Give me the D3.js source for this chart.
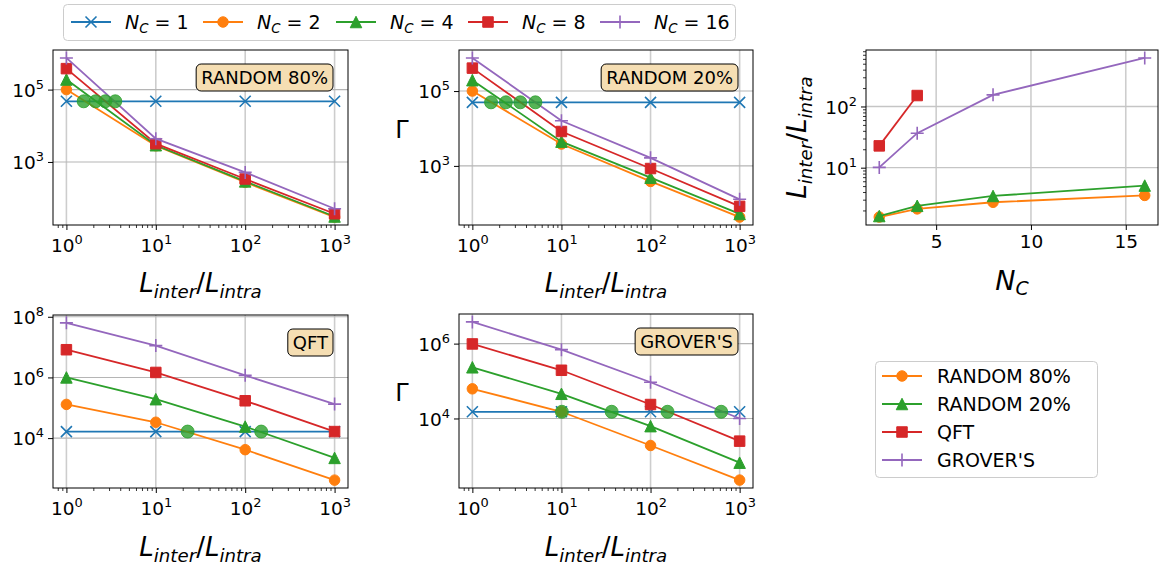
<!DOCTYPE html>
<html>
<head>
<meta charset="utf-8">
<script src="https://cdn.jsdelivr.net/npm/d3@7"></script>
<style>
  body { margin: 0; background: #fff; }
  text { font-family: "DejaVu Sans", sans-serif; fill: #000; }
</style>
</head>
<body>
<div id="chart"></div>
<script>
// ---- data ----
const ratios = [1, 10, 100, 1000];               // L_inter / L_intra
const ncCounts = [1, 2, 4, 8, 16];
const ncColors = ['#1f77b4', '#ff7f0e', '#2ca02c', '#d62728', '#9467bd'];
const ncMarkers = ['x', 'o', '^', 's', '+'];

// Gamma, one row per N_C (1, 2, 4, 8, 16), one column per ratio
const gammaRandom80 = [
  [4.75e4, 4.75e4, 4.75e4, 4.75e4],
  [1.0e5, 2800, 275, 30],
  [1.9e5, 2900, 290, 31],
  [3.8e5, 3200, 338, 37],
  [7.5e5, 4400, 515, 51]
];
const gammaRandom20 = [
  [5.0e4, 5.0e4, 5.0e4, 5.0e4],
  [1.0e5, 3850, 385, 43],
  [1.95e5, 4450, 485, 52],
  [4.1e5, 8300, 850, 83],
  [7.66e5, 16100, 1640, 128]
];
const gammaQft = [
  [1.64e4, 1.64e4, 1.64e4, 1.64e4],
  [1.29e5, 3.33e4, 4150, 411],
  [1.0e6, 1.92e5, 2.4e4, 2220],
  [8.2e6, 1.46e6, 1.7e5, 1.64e4],
  [6.3e7, 1.12e7, 1.17e6, 1.32e5]
];
const gammaGrover = [
  [1.51e4, 1.51e4, 1.51e4, 1.51e4],
  [6.2e4, 1.51e4, 1900, 226],
  [2.33e5, 4.56e4, 6240, 659],
  [9.8e5, 1.94e5, 2.36e4, 2480],
  [3.8e6, 6.9e5, 9.3e4, 1.0e4]
];

// break-even ratio vs N_C
const crossNc = [2, 4, 8, 16];
const crossRandom80 = [1.56, 2.12, 2.72, 3.52];
const crossRandom20 = [1.62, 2.38, 3.45, 5.1];
const crossQft = [22.7, 151];
const crossGrover = [10.1, 36.6, 155, 621];

const benchNames = ['RANDOM 80%', 'RANDOM 20%', 'QFT', "GROVER'S"];
const benchColors = ['#ff7f0e', '#2ca02c', '#d62728', '#9467bd'];
const benchMarkers = ['o', '^', 's', '+'];

// ---- drawing ----
const W = 1160, H = 566;
const TICK_FONT = 18.5;
const svg = d3.select('#chart').append('svg').attr('width', W).attr('height', H);

const markerSize = { o: 10.5, s: 10.5, '^': 11.5, '+': 13, x: 11 };
function markerPath(type, s) {
  const h = s / 2;
  if (type === 'o') return d3.symbol(d3.symbolCircle, Math.PI * h * h)();
  if (type === 's') return `M${-h},${-h}H${h}V${h}H${-h}Z`;
  if (type === '^') return `M0,${-h}L${h},${h}L${-h},${h}Z`;
  if (type === '+') return `M${-h},0H${h}M0,${-h}V${h}`;
  return `M${-h},${-h}L${h},${h}M${h},${-h}L${-h},${h}`;
}
function addMarker(g, type, color, cx, cy) {
  const p = g.append('path')
    .attr('transform', `translate(${cx},${cy})`)
    .attr('d', markerPath(type, markerSize[type]));
  if (type === '+' || type === 'x') p.attr('fill', 'none').attr('stroke', color).attr('stroke-width', 1.6);
  else p.attr('fill', color).attr('stroke', color).attr('stroke-width', 1);
}

function powLabel(sel, exp, size) {
  sel.text(null);
  sel.append('tspan').text('10');
  sel.append('tspan').attr('dy', -0.42 * size).attr('font-size', size * 0.7).text(exp);
}

function ratioLabel(sel, size) {
  sel.attr('font-size', size).attr('font-style', 'italic');
  sel.append('tspan').text('L');
  sel.append('tspan').attr('font-size', size * 0.7).attr('dy', size * 0.22).text('inter');
  sel.append('tspan').attr('dy', -size * 0.22).attr('font-style', 'normal').text('/');
  sel.append('tspan').text('L');
  sel.append('tspan').attr('font-size', size * 0.7).attr('dy', size * 0.22).text('intra');
}

function ncText(sel, tail, size) {
  sel.attr('font-size', size);
  sel.append('tspan').attr('font-style', 'italic').text('N');
  sel.append('tspan').attr('font-style', 'italic').attr('font-size', size * 0.7).attr('dy', size * 0.2).text('C');
  if (tail) sel.append('tspan').attr('dy', -size * 0.2).text(tail);
}

function frame(g, box) {
  g.append('rect').attr('x', box.x).attr('y', box.y).attr('width', box.w).attr('height', box.h)
    .attr('fill', 'none').attr('stroke', '#000').attr('stroke-width', 1);
}

function styleAxis(a) {
  a.select('.domain').remove();
  a.selectAll('line').attr('stroke', '#000').attr('stroke-width', 1);
  a.selectAll('text').attr('font-size', TICK_FONT).attr('font-family', '"DejaVu Sans", sans-serif');
}

function drawLogPanel(box, gammas, crossX, name, withGamma, labelBase) {
  const g = svg.append('g');
  const x = d3.scaleLog().domain([10 ** -0.15, 10 ** 3.15]).range([box.x, box.x + box.w]);
  const all = gammas.flat();
  const lo = Math.log10(d3.min(all)), hi = Math.log10(d3.max(all)), pad = 0.05 * (hi - lo);
  const y = d3.scaleLog().domain([10 ** (lo - pad), 10 ** (hi + pad)]).range([box.y + box.h, box.y]);

  const yMajor = [];
  for (let k = Math.floor(lo - pad) - 2; k <= Math.ceil(hi + pad); k += 2) {
    const v = 10 ** k;
    if (v >= y.domain()[0] && v <= y.domain()[1]) yMajor.push(v);
  }
  const xMinor = [];
  for (let d = -1; d <= 3; d++) for (let m = 2; m <= 9; m++) {
    const v = m * 10 ** d;
    if (v >= x.domain()[0] && v <= x.domain()[1]) xMinor.push(v);
  }

  // grid
  g.selectAll('.vg').data(ratios).join('line')
    .attr('x1', d => x(d)).attr('x2', d => x(d)).attr('y1', box.y).attr('y2', box.y + box.h)
    .attr('stroke', '#cdcdcd').attr('stroke-width', 1.6);
  g.selectAll('.hg').data(yMajor).join('line')
    .attr('x1', box.x).attr('x2', box.x + box.w).attr('y1', d => y(d)).attr('y2', d => y(d))
    .attr('stroke', '#b5b5b5').attr('stroke-width', 1.1);

  // series
  const line = d3.line().x(d => x(d[0])).y(d => y(d[1]));
  gammas.forEach((vals, i) => {
    const pts = ratios.map((r, j) => [r, vals[j]]);
    g.append('path').datum(pts).attr('d', line).attr('fill', 'none')
      .attr('stroke', ncColors[i]).attr('stroke-width', 1.8);
    pts.forEach(p => addMarker(g, ncMarkers[i], ncColors[i], x(p[0]), y(p[1])));
  });
  // break-even points on the N_C = 1 level
  g.selectAll('.cross').data(crossX).join('circle')
    .attr('cx', d => x(d)).attr('cy', y(gammas[0][0])).attr('r', 6.5)
    .attr('fill', '#2ca02c').attr('fill-opacity', 0.8).attr('stroke', '#2ca02c').attr('stroke-opacity', 0.8);

  frame(g, box);

  // axes
  const xa = g.append('g').attr('transform', `translate(0,${box.y + box.h})`)
    .call(d3.axisBottom(x).tickValues(ratios).tickSize(5).tickPadding(9).tickFormat(d => Math.round(Math.log10(d))));
  styleAxis(xa);
  xa.selectAll('text').each(function (d) { powLabel(d3.select(this), Math.round(Math.log10(d)), TICK_FONT); });
  const xm = g.append('g').attr('transform', `translate(0,${box.y + box.h})`)
    .call(d3.axisBottom(x).tickValues(xMinor).tickSize(3).tickFormat(''));
  styleAxis(xm);
  xm.selectAll('line').attr('stroke-width', 0.8);

  const ya = g.append('g').attr('transform', `translate(${box.x},0)`)
    .call(d3.axisLeft(y).tickValues(yMajor).tickSize(5).tickPadding(4).tickFormat(d => Math.round(Math.log10(d))));
  styleAxis(ya);
  ya.selectAll('text').attr('dy', '0.36em').each(function (d) { powLabel(d3.select(this), Math.round(Math.log10(d)), TICK_FONT); });

  // x label
  g.append('text').attr('x', box.x + box.w / 2).attr('y', labelBase).attr('text-anchor', 'middle')
    .call(s => ratioLabel(s, 26));
  if (withGamma) {
    g.append('text').attr('x', box.x - 57).attr('y', box.y + box.h / 2)
      .attr('text-anchor', 'middle').attr('font-size', 24).text('Γ');
  }

  // benchmark tag
  const tag = g.append('g');
  const t = tag.append('text').attr('font-size', 18).attr('text-anchor', 'end')
    .attr('x', box.x + box.w - 20).attr('y', box.y + 34).text(name);
  const tw = t.node().getComputedTextLength();
  tag.insert('rect', 'text')
    .attr('x', box.x + box.w - 20 - tw - 5).attr('y', box.y + 14)
    .attr('width', tw + 10).attr('height', 27).attr('rx', 5)
    .attr('fill', '#f5deb3').attr('stroke', '#000').attr('stroke-width', 1);
}

const layout = [
  { x: 53, y: 50, w: 295, h: 175 },
  { x: 459, y: 50, w: 294, h: 175 },
  { x: 866, y: 50, w: 292, h: 175 },
  { x: 53, y: 315, w: 295, h: 173 },
  { x: 459, y: 314, w: 294, h: 174 }
];

drawLogPanel(layout[0], gammaRandom80, crossRandom80, benchNames[0], false, 292);
drawLogPanel(layout[1], gammaRandom20, crossRandom20, benchNames[1], true, 292);
drawLogPanel(layout[3], gammaQft, crossQft, benchNames[2], false, 556);
drawLogPanel(layout[4], gammaGrover, crossGrover, benchNames[3], true, 556);

// ---- break-even panel ----
(function () {
  const box = layout[2];
  const g = svg.append('g');
  const x = d3.scaleLinear().domain([2 - 0.7, 16 + 0.7]).range([box.x, box.x + box.w]);
  const series = [crossRandom80, crossRandom20, crossQft, crossGrover];
  const all = series.flat();
  const lo = Math.log10(d3.min(all)), hi = Math.log10(d3.max(all)), pad = 0.05 * (hi - lo);
  const y = d3.scaleLog().domain([10 ** (lo - pad), 10 ** (hi + pad)]).range([box.y + box.h, box.y]);
  const yMajor = [10, 100];
  const yMinor = [];
  for (let d = 0; d <= 2; d++) for (let m = 2; m <= 9; m++) {
    const v = m * 10 ** d;
    if (v >= y.domain()[0] && v <= y.domain()[1]) yMinor.push(v);
  }
  const xTicks = [5, 10, 15];

  g.selectAll('.vg').data(xTicks).join('line')
    .attr('x1', d => x(d)).attr('x2', d => x(d)).attr('y1', box.y).attr('y2', box.y + box.h)
    .attr('stroke', '#cdcdcd').attr('stroke-width', 1.6);
  g.selectAll('.hg').data(yMajor).join('line')
    .attr('x1', box.x).attr('x2', box.x + box.w).attr('y1', d => y(d)).attr('y2', d => y(d))
    .attr('stroke', '#c5c5c5').attr('stroke-width', 1.4);

  const line = d3.line().x(d => x(d[0])).y(d => y(d[1]));
  series.forEach((vals, i) => {
    const pts = vals.map((v, j) => [crossNc[j], v]);
    g.append('path').datum(pts).attr('d', line).attr('fill', 'none')
      .attr('stroke', benchColors[i]).attr('stroke-width', 1.8);
    pts.forEach(p => addMarker(g, benchMarkers[i], benchColors[i], x(p[0]), y(p[1])));
  });

  frame(g, box);

  const xa = g.append('g').attr('transform', `translate(0,${box.y + box.h})`)
    .call(d3.axisBottom(x).tickValues(xTicks).tickSize(5).tickPadding(5).tickFormat(d3.format('d')));
  styleAxis(xa);
  const ya = g.append('g').attr('transform', `translate(${box.x},0)`)
    .call(d3.axisLeft(y).tickValues(yMajor).tickSize(5).tickPadding(4).tickFormat(d => Math.round(Math.log10(d))));
  styleAxis(ya);
  ya.selectAll('text').attr('dy', '0.36em').each(function (d) { powLabel(d3.select(this), Math.round(Math.log10(d)), TICK_FONT); });
  const ym = g.append('g').attr('transform', `translate(${box.x},0)`)
    .call(d3.axisLeft(y).tickValues(yMinor).tickSize(3).tickFormat(''));
  styleAxis(ym);
  ym.selectAll('line').attr('stroke-width', 0.8);

  g.append('text').attr('x', box.x + box.w / 2).attr('y', 290).attr('text-anchor', 'middle')
    .call(s => ncText(s, '', 27));
  g.append('text').attr('transform', `translate(806,${box.y + box.h / 2}) rotate(-90)`)
    .attr('text-anchor', 'middle').call(s => ratioLabel(s, 26));
})();

// ---- legends ----
const topLegend = svg.append('g');
topLegend.append('rect').attr('x', 63.5).attr('y', 4.5).attr('width', 672).attr('height', 36).attr('rx', 4)
  .attr('fill', '#fff').attr('stroke', '#cccccc').attr('stroke-width', 1);
const topLegendX = [71, 203, 336, 468, 600];
ncCounts.forEach((n, i) => {
  const x0 = topLegendX[i], yy = 22;
  topLegend.append('line').attr('x1', x0).attr('x2', x0 + 40).attr('y1', yy).attr('y2', yy)
    .attr('stroke', ncColors[i]).attr('stroke-width', 1.8);
  addMarker(topLegend, ncMarkers[i], ncColors[i], x0 + 20, yy);
  topLegend.append('text').attr('x', x0 + 54).attr('y', yy + 7).call(s => ncText(s, ` = ${n}`, 19));
});

const sideLegend = svg.append('g');
sideLegend.append('rect').attr('x', 875.5).attr('y', 361.5).attr('width', 222).attr('height', 116).attr('rx', 4)
  .attr('fill', '#fff').attr('stroke', '#cccccc').attr('stroke-width', 1);
benchNames.forEach((name, i) => {
  const yy = 376 + i * 28;
  sideLegend.append('line').attr('x1', 882).attr('x2', 922).attr('y1', yy).attr('y2', yy)
    .attr('stroke', benchColors[i]).attr('stroke-width', 1.8);
  addMarker(sideLegend, benchMarkers[i], benchColors[i], 902, yy);
  sideLegend.append('text').attr('x', 937).attr('y', yy + 7).attr('font-size', 19).text(name);
});
</script>
</body>
</html>
